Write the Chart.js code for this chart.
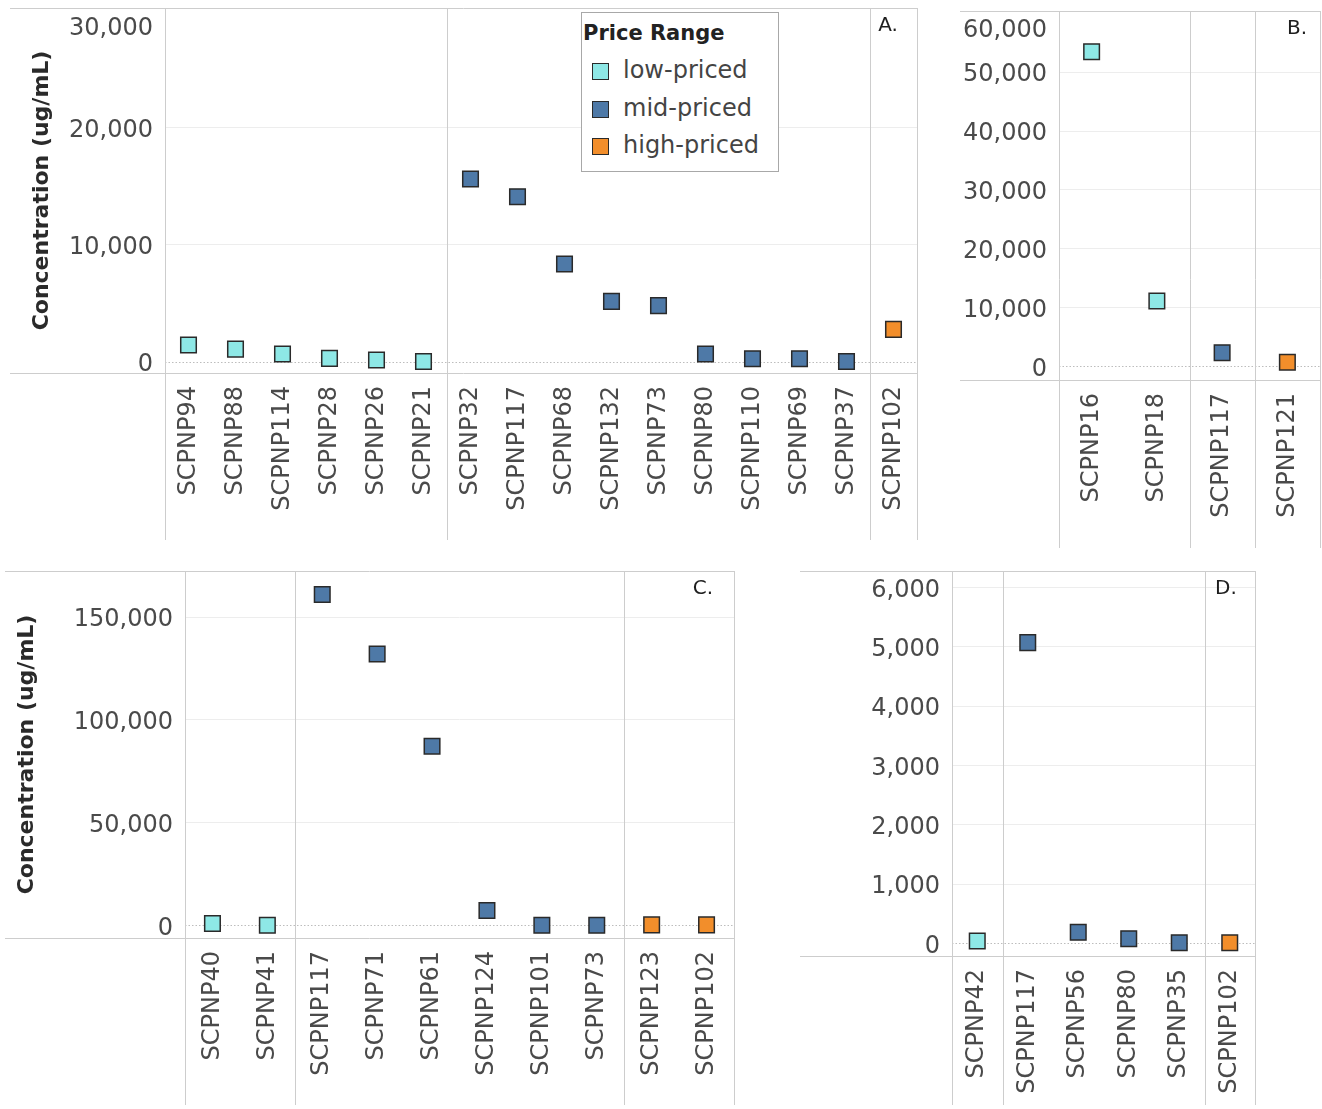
<!DOCTYPE html>
<html>
<head>
<meta charset="utf-8">
<script src="https://cdn.jsdelivr.net/npm/chart.js@4.4.1/dist/chart.umd.min.js"></script>
<style>
  body { margin: 0; background: #fff; font-family: "DejaVu Sans", sans-serif; }
  #wrap { position: relative; width: 1322px; height: 1109px; overflow: hidden; }
  canvas { position: absolute; }
  #legend { position: absolute; left: 581px; top: 12px; width: 196px; height: 158px;
            border: 1px solid #a8a8a8; background: #fff; }
  #legend .ttl { position: absolute; left: 1px; top: 8px; font: bold 21px "DejaVu Sans"; color: #222; }
  #legend .row { position: absolute; left: 0; height: 30px; line-height: 30px;
                 font: 24px "DejaVu Sans"; color: #444; }
  #legend .sw { position: absolute; left: 10px; top: 6px; width: 15px; height: 15px;
                border: 1.5px solid #2a2a2a; }
  #legend .lb { position: absolute; left: 41px; top: -1px; white-space: nowrap; }
</style>
</head>
<body>
<div id="wrap">
  <canvas id="chartA" width="920" height="545" style="left:0;top:0"></canvas>
  <canvas id="chartB" width="382" height="550" style="left:940px;top:0"></canvas>
  <canvas id="chartC" width="740" height="549" style="left:0;top:560px"></canvas>
  <canvas id="chartD" width="470" height="549" style="left:795px;top:560px"></canvas>
  <div id="legend"><div class="ttl">Price Range</div></div>
</div>
<script>
// Grupos de precio
const priceKeys = ['low', 'mid', 'high'];
const priceLabels = ['low-priced', 'mid-priced', 'high-priced'];
const priceColors = ['#8ee8e6', '#4e79a7', '#f28e2b'];

// Panel A
const catsA = ['SCPNP94', 'SCPNP88', 'SCPNP114', 'SCPNP28', 'SCPNP26', 'SCPNP21',
  'SCPNP32', 'SCPNP117', 'SCPNP68', 'SCPNP132', 'SCPNP73', 'SCPNP80', 'SCPNP110', 'SCPNP69', 'SCPNP37',
  'SCPNP102'];
const valsA = [1450, 1100, 680, 310, 170, 40,
  15640, 14130, 8380, 5180, 4820, 680, 280, 280, 40,
  2790];
const priceA = ['low', 'low', 'low', 'low', 'low', 'low',
  'mid', 'mid', 'mid', 'mid', 'mid', 'mid', 'mid', 'mid', 'mid',
  'high'];
const ticksA = [0, 10000, 20000, 30000];

// Panel B
const catsB = ['SCPNP16', 'SCPNP18', 'SCPNP117', 'SCPNP121'];
const valsB = [53480, 11150, 2380, 750];
const priceB = ['low', 'low', 'mid', 'high'];
const ticksB = [0, 10000, 20000, 30000, 40000, 50000, 60000];

// Panel C
const catsC = ['SCPNP40', 'SCPNP41', 'SCPNP117', 'SCPNP71', 'SCPNP61', 'SCPNP124', 'SCPNP101', 'SCPNP73',
  'SCPNP123', 'SCPNP102'];
const valsC = [900, 0, 161100, 132100, 87200, 7200, 0, 0, 200, 200];
const priceC = ['low', 'low', 'mid', 'mid', 'mid', 'mid', 'mid', 'mid', 'high', 'high'];
const ticksC = [0, 50000, 100000, 150000];

// Panel D
const catsD = ['SCPNP42', 'SCPNP117', 'SCPNP56', 'SCPNP80', 'SCPNP35', 'SCPNP102'];
const valsD = [40, 5070, 185, 78, 10, 10];
const priceD = ['low', 'mid', 'mid', 'mid', 'mid', 'high'];
const ticksD = [0, 1000, 2000, 3000, 4000, 5000, 6000];

const fmt = v => v.toLocaleString('en-US');
const lineColor = '#cdcdcd';

// Marco estilo Tableau: bordes, separadores de grupo y letra del panel
const panelFrame = {
  id: 'panelFrame',
  beforeDatasetsDraw(chart, args, o) {
    const { ctx, chartArea: a } = chart;
    const x = chart.scales.x;
    ctx.save();
    ctx.strokeStyle = lineColor;
    ctx.lineWidth = 1;
    ctx.beginPath();
    ctx.moveTo(o.lineStart, Math.round(a.top) + 0.5);
    ctx.lineTo(a.right, Math.round(a.top) + 0.5);
    ctx.moveTo(o.lineStart, Math.round(a.bottom) + 0.5);
    ctx.lineTo(a.right, Math.round(a.bottom) + 0.5);
    const xs = [a.left, a.right];
    for (let i = 1; i < o.groups.length; i++) {
      if (o.groups[i] !== o.groups[i - 1]) {
        xs.push((x.getPixelForValue(i - 1) + x.getPixelForValue(i)) / 2);
      }
    }
    xs.forEach(px => {
      ctx.moveTo(Math.round(px) + 0.5, a.top);
      ctx.lineTo(Math.round(px) + 0.5, o.lineEnd);
    });
    ctx.stroke();
    ctx.fillStyle = '#1e1e1e';
    ctx.font = '20px "DejaVu Sans"';
    ctx.textAlign = 'center';
    ctx.textBaseline = 'middle';
    ctx.fillText(o.letter, a.right - o.letterDx, a.top + 18);
    ctx.restore();
  }
};

function makePanel(id, cats, vals, price, ticks, yMin, yMax, box) {
  const topTick = ticks[ticks.length - 1];
  return new Chart(document.getElementById(id), {
    type: 'line',
    data: {
      labels: cats,
      datasets: [{
        data: vals,
        showLine: false,
        pointStyle: 'rect',
        pointRadius: 11,
        pointHoverRadius: 11,
        pointBorderWidth: 1.5,
        pointBorderColor: '#2a2a2a',
        pointBackgroundColor: price.map(p => priceColors[priceKeys.indexOf(p)]),
        clip: false
      }]
    },
    options: {
      responsive: false,
      animation: false,
      events: [],
      layout: {
        autoPadding: false,
        padding: { left: 0, top: box.top, right: box.w - box.right, bottom: 0 }
      },
      plugins: {
        legend: { display: false },
        tooltip: { enabled: false },
        panelFrame: {
          groups: price,
          letter: box.letter,
          letterDx: box.letterDx,
          lineStart: box.lineStart,
          lineEnd: box.lineEnd
        }
      },
      scales: {
        x: {
          type: 'category',
          offset: true,
          grid: { display: false },
          border: { display: false },
          ticks: {
            autoSkip: false,
            minRotation: 90,
            maxRotation: 90,
            padding: 5,
            color: '#4a4a4a',
            font: { family: 'DejaVu Sans', size: 24 }
          },
          afterFit(s) {
            s.height = box.h - box.bottom;
            s.paddingLeft = 0;
            s.paddingRight = 0;
          }
        },
        y: {
          min: yMin,
          max: yMax,
          afterBuildTicks(s) { s.ticks = ticks.map(v => ({ value: v })); },
          afterFit(s) {
            s.width = box.left;
            s.paddingTop = 0;
            s.paddingBottom = 0;
          },
          grid: {
            drawTicks: false,
            color: c => {
              if (!c.tick) return 'transparent';
              if (c.tick.value === 0) return '#bdbdbd';
              if (box.shiftTop && c.tick.value === topTick) return 'transparent';
              return '#ededed';
            }
          },
          border: {
            display: false,
            dash: c => (c.tick && c.tick.value === 0) ? [1.5, 2] : []
          },
          ticks: {
            padding: 12,
            labelOffset: 3,
            color: '#4a4a4a',
            font: { family: 'DejaVu Sans', size: 24 },
            callback: v => (box.shiftTop && v === topTick) ? ['', fmt(v)] : fmt(v)
          },
          title: {
            display: !!box.title,
            text: 'Concentration (ug/mL)',
            color: '#2a2a2a',
            font: { family: 'DejaVu Sans', size: 22, weight: 'bold' },
            padding: { top: box.titlePad || 0, bottom: 0 }
          }
        }
      }
    },
    plugins: [panelFrame]
  });
}

makePanel('chartA', catsA, valsA, priceA, ticksA, -940, 30256,
  { w: 920, h: 545, left: 165, right: 917, top: 8, bottom: 373, lineStart: 10, lineEnd: 540,
    letter: 'A.', letterDx: 29, title: true, titlePad: 29, shiftTop: true });
makePanel('chartB', catsB, valsB, priceB, ticksB, -2260, 60390,
  { w: 382, h: 550, left: 119, right: 380, top: 11, bottom: 380, lineStart: 20, lineEnd: 548,
    letter: 'B.', letterDx: 23, shiftTop: true });
makePanel('chartC', catsC, valsC, priceC, ticksC, -6190, 172500,
  { w: 740, h: 549, left: 185, right: 734, top: 11, bottom: 378, lineStart: 5, lineEnd: 545,
    letter: 'C.', letterDx: 31, title: true, titlePad: 14 });
makePanel('chartD', catsD, valsD, priceD, ticksD, -214, 6278,
  { w: 470, h: 549, left: 157, right: 460, top: 11, bottom: 396, lineStart: 5, lineEnd: 545,
    letter: 'D.', letterDx: 29 });

// Leyenda
const legend = document.getElementById('legend');
priceKeys.forEach((k, i) => {
  const row = document.createElement('div');
  row.className = 'row';
  row.style.top = (44 + i * 37.5) + 'px';
  row.innerHTML = '<span class="sw" style="background:' + priceColors[i] + '"></span>' +
    '<span class="lb">' + priceLabels[i] + '</span>';
  legend.appendChild(row);
});
</script>
</body>
</html>
